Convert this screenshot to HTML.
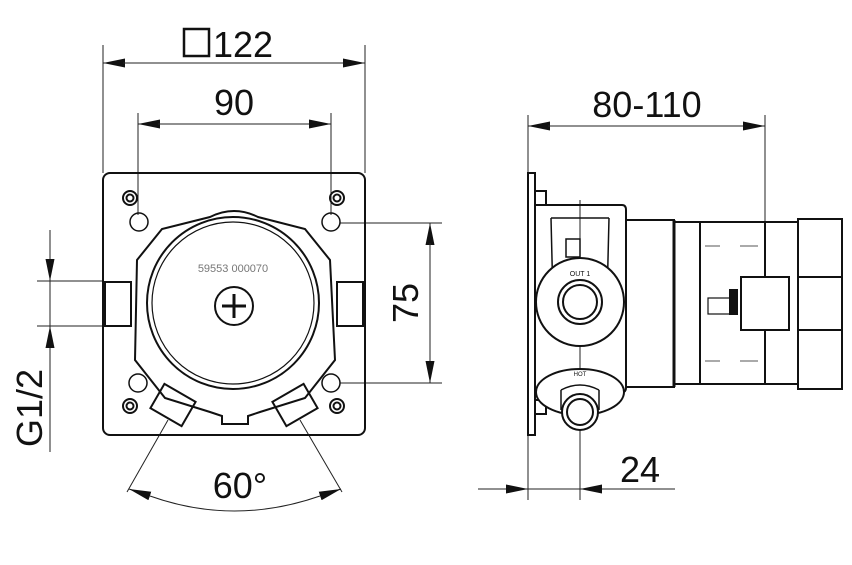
<!DOCTYPE html>
<html><head><meta charset="utf-8"><style>
html,body{margin:0;padding:0;background:#fff}
svg{display:block}
text{font-family:"Liberation Sans",sans-serif;fill:#111}
</style></head><body>
<svg width="852" height="565" viewBox="0 0 852 565" xmlns="http://www.w3.org/2000/svg">
<defs>
<marker id="a" viewBox="0 0 22 9" refX="22" refY="4.5" markerWidth="22" markerHeight="9" markerUnits="userSpaceOnUse" orient="auto"><path d="M0,0L22,4.5L0,9z" fill="#111"/></marker>
</defs>
<g stroke="#222" stroke-width="1" fill="none">
<line x1="103" y1="45" x2="103" y2="173"/><line x1="365" y1="45" x2="365" y2="173"/>
<line x1="123" y1="63" x2="103" y2="63" marker-end="url(#a)"/><line x1="123" y1="63" x2="345" y2="63"/><line x1="345" y1="63" x2="365" y2="63" marker-end="url(#a)"/>
<line x1="138" y1="113" x2="138" y2="215"/><line x1="331" y1="113" x2="331" y2="215"/>
<line x1="158" y1="124" x2="138" y2="124" marker-end="url(#a)"/><line x1="158" y1="124" x2="311" y2="124"/><line x1="311" y1="124" x2="331" y2="124" marker-end="url(#a)"/>
<line x1="340" y1="223" x2="442" y2="223"/><line x1="340" y1="383" x2="442" y2="383"/>
<line x1="430" y1="243" x2="430" y2="223" marker-end="url(#a)"/><line x1="430" y1="243" x2="430" y2="363"/><line x1="430" y1="363" x2="430" y2="383" marker-end="url(#a)"/>
<line x1="37" y1="281" x2="103" y2="281"/><line x1="37" y1="326" x2="103" y2="326"/>
<line x1="50" y1="230" x2="50" y2="281" marker-end="url(#a)"/>
<line x1="50" y1="452" x2="50" y2="326" marker-end="url(#a)"/>
<line x1="50" y1="281" x2="50" y2="326"/>
<line x1="168" y1="420" x2="127" y2="492"/><line x1="300" y1="420" x2="342" y2="492"/>
<path d="M150,496 Q234,526 320,496"/>
<line x1="150" y1="496" x2="129" y2="489" marker-end="url(#a)"/>
<line x1="320" y1="496" x2="341" y2="489" marker-end="url(#a)"/>
<line x1="528" y1="115" x2="528" y2="500"/><line x1="765" y1="115" x2="765" y2="222"/>
<line x1="548" y1="126" x2="528" y2="126" marker-end="url(#a)"/><line x1="548" y1="126" x2="745" y2="126"/><line x1="745" y1="126" x2="765" y2="126" marker-end="url(#a)"/>
<line x1="580" y1="200" x2="580" y2="500"/>
<line x1="478" y1="489" x2="528" y2="489" marker-end="url(#a)"/>
<line x1="675" y1="489" x2="580" y2="489" marker-end="url(#a)"/>
<line x1="528" y1="489" x2="580" y2="489"/>
</g>
<rect x="184" y="29" width="25" height="27" fill="none" stroke="#111" stroke-width="2.5"/>
<text x="213" y="57" font-size="36">122</text>
<text x="234" y="115" font-size="36" text-anchor="middle">90</text>
<text x="647" y="117" font-size="36" text-anchor="middle">80-110</text>
<text x="640" y="482" font-size="36" text-anchor="middle">24</text>
<text x="240" y="498" font-size="36" text-anchor="middle">60°</text>
<text transform="translate(418,303) rotate(-90)" font-size="36" text-anchor="middle">75</text>
<text transform="translate(42,408) rotate(-90)" font-size="36" text-anchor="middle">G1/2</text>

<g stroke="#111" stroke-width="2" fill="none">
<rect x="103" y="173" width="262" height="262" rx="7"/>
<circle cx="130" cy="198" r="7"/><circle cx="130" cy="198" r="3.5"/>
<circle cx="337" cy="198" r="7"/><circle cx="337" cy="198" r="3.5"/>
<circle cx="130" cy="406" r="7"/><circle cx="130" cy="406" r="3.5"/>
<circle cx="337" cy="406" r="7"/><circle cx="337" cy="406" r="3.5"/>
<circle cx="139" cy="222" r="9" stroke-width="1.5"/><circle cx="331" cy="222" r="9" stroke-width="1.5"/>
<circle cx="138" cy="383" r="9" stroke-width="1.5"/><circle cx="331" cy="383" r="9" stroke-width="1.5"/>
<path d="M210,217 Q234,205 258,217 L305,229 L330,260 L335,360 L305,398 L260,412 L248,416 L248,424 L222,424 L222,416 L210,412 L165,398 L135,360 L137,260 L162,229 Z"/>
<circle cx="233" cy="303" r="86"/>
<circle cx="233" cy="303" r="81" stroke-width="1.2"/>
<circle cx="234" cy="306" r="19"/>
<line x1="234" y1="294" x2="234" y2="318" stroke-width="3"/><line x1="222" y1="306" x2="246" y2="306" stroke-width="3"/>
<rect x="105" y="282" width="26" height="44"/>
<rect x="337" y="282" width="26" height="44"/>
<rect x="-18" y="-14" width="36" height="28" transform="translate(173,405) rotate(30)"/>
<rect x="-18" y="-14" width="36" height="28" transform="translate(295,405) rotate(-30)"/>
</g>
<text x="233" y="272" font-size="11" text-anchor="middle" style="fill:#777">59553 000070</text>

<g stroke="#111" stroke-width="2" fill="none">
<rect x="528" y="173" width="7" height="262"/>
<rect x="535" y="191" width="11" height="14"/><rect x="535" y="400" width="11" height="14"/>
<path d="M535,205 L622,205 Q626,205 626,210 L626,388 Q626,392 622,392 L535,392"/>
<path d="M551,218 L553,300 M609,218 L607,300 M551,218 L609,218" stroke-width="1.5"/>
<rect x="566" y="239" width="14" height="18" stroke-width="1.5"/>
<rect x="626" y="220" width="48" height="167"/>
<line x1="674" y1="220" x2="674" y2="387" stroke-width="3"/>
<rect x="674" y="222" width="26" height="162"/>
<rect x="700" y="222" width="65" height="162"/>
<rect x="765" y="222" width="33" height="162"/>
<rect x="798" y="219" width="44" height="170"/>
<line x1="798" y1="277" x2="842" y2="277"/><line x1="798" y1="330" x2="842" y2="330"/>
<rect x="741" y="277" width="48" height="53" fill="#fff"/>
<rect x="708" y="298" width="22" height="16" stroke-width="1.2"/>
<rect x="730" y="290" width="7" height="24" fill="#111"/>
<circle cx="580" cy="302" r="44" fill="#fff"/>
<circle cx="580" cy="302" r="22"/><circle cx="580" cy="302" r="17"/>
<ellipse cx="580" cy="392" rx="44" ry="23" fill="#fff"/>
<path d="M561,390 L561,410 M599,390 L599,410 M561,390 Q580,380 599,390" stroke-width="1.5"/>
<circle cx="580" cy="412" r="18" fill="#fff"/><circle cx="580" cy="412" r="13"/>
</g>
<g stroke="#555" stroke-width="1">
<line x1="705" y1="246" x2="720" y2="246"/><line x1="740" y1="246" x2="758" y2="246"/>
<line x1="705" y1="361" x2="720" y2="361"/><line x1="740" y1="361" x2="758" y2="361"/>
</g>
<text x="580" y="276" font-size="7" text-anchor="middle">OUT 1</text>
<text x="580" y="376" font-size="6" text-anchor="middle">HOT</text>
</svg>
</body></html>
